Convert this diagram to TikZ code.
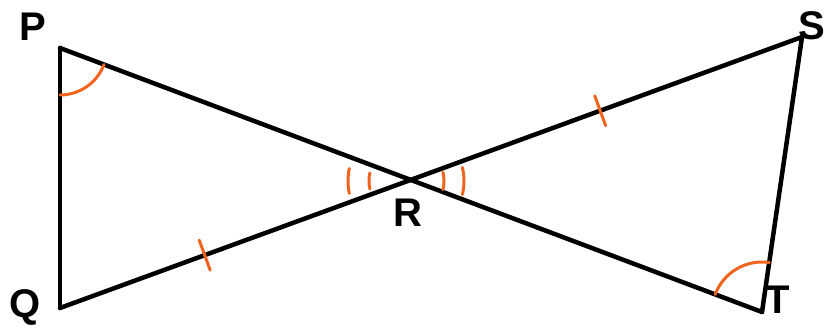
\documentclass[tikz,border=0pt]{standalone}
\usepackage{fontspec}
\setmainfont{Liberation Sans}
\usetikzlibrary{calc}
\definecolor{mkorange}{RGB}{240,100,30}
\tikzset{
  seg/.style={line width=4.5pt, line cap=round, line join=round, black},
  orangemk/.style={line width=3pt, mkorange, line cap=round},
  lbl/.style={font=\fontsize{40}{40}\selectfont\bfseries, inner sep=0pt}
}
\begin{document}
\begin{tikzpicture}[x=1pt,y=1pt]
\useasboundingbox (0,0) rectangle (827,329);
\coordinate (P) at (60,281);
\coordinate (Q) at (60,21);
\coordinate (S) at (802,292);
\coordinate (T) at (762,17);
\coordinate (R) at (408,148);
% lines
\draw[seg] (P) -- (T);
\draw[seg] (Q) -- (S);
\draw[seg] (P) -- (Q);
\draw[seg] (S) -- (T);
% angle arcs
\draw[orangemk] ([shift={(-90:47pt)}]P) arc[start angle=-90, end angle=-20.6, radius=47pt];
\draw[orangemk] ([shift={(81.7:50pt)}]T) arc[start angle=81.7, end angle=159.4, radius=50pt];
\draw[orangemk] ([shift={(168:60pt)}]R) arc[start angle=168, end angle=192, radius=60pt];
\draw[orangemk] ([shift={(168:39pt)}]R) arc[start angle=168, end angle=192, radius=39pt];
\draw[orangemk] ([shift={(-14:36pt)}]R) arc[start angle=-14, end angle=14, radius=36pt];
\draw[orangemk] ([shift={(-14:56pt)}]R) arc[start angle=-14, end angle=14, radius=56pt];
% ticks
\coordinate (t1) at ($(Q)!0.195!(S)$);
\coordinate (t2) at ($(Q)!0.728!(S)$);
\draw[orangemk] ($(t1)!16pt!90:(S)$) -- ($(t1)!16pt!-90:(S)$);
\draw[orangemk] ($(t2)!16pt!90:(S)$) -- ($(t2)!16pt!-90:(S)$);
% labels
\node[lbl] (lP) at (33,302) {P};
\node[lbl] (lQ) at (25,22) {Q};
\node[lbl] (lS) at (812,303) {S};
\node[lbl] (lT) at (778,29) {T};
\node[lbl] (lR) at (408,116) {R};
\end{tikzpicture}
\end{document}
